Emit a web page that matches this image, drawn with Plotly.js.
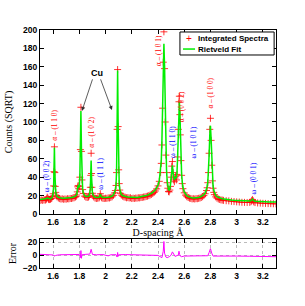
<!DOCTYPE html>
<html>
<head>
<meta charset="utf-8">
<script src="https://cdn.plot.ly/plotly-3.0.1.min.js"></script>
<style>html,body{margin:0;padding:0;background:#fff;}#chart{width:305px;height:306px;}</style>
</head>
<body>
<div id="chart"></div>
<script>
// D-spacing grid (Å) for the integrated spectrum and the Rietveld fit
const dSpacing = [
  1.50, 1.51, 1.52, 1.53, 1.54, 1.545, 1.55, 1.555, 1.56, 1.565, 1.57, 1.575, 1.58, 1.585, 1.59, 1.595,
  1.60, 1.604, 1.607, 1.61, 1.613, 1.616, 1.62, 1.625, 1.63, 1.64,
  1.65, 1.66, 1.67, 1.68, 1.69, 1.70, 1.71, 1.72, 1.73, 1.74, 1.75, 1.76, 1.77, 1.775, 1.78, 1.784, 1.788, 1.791, 1.795, 1.80,
  1.804, 1.808, 1.812, 1.816, 1.82, 1.825, 1.83, 1.84, 1.85, 1.86, 1.87,
  1.875, 1.88, 1.884, 1.887, 1.89, 1.893, 1.896, 1.90, 1.905, 1.91, 1.92, 1.93, 1.94, 1.95, 1.955, 1.96, 1.965, 1.97, 1.98, 1.99, 2.00,
  2.01, 2.02, 2.03, 2.04, 2.05, 2.06, 2.07, 2.075, 2.08, 2.084, 2.088, 2.092, 2.096, 2.10, 2.104, 2.108, 2.113, 2.12, 2.13, 2.14, 2.15, 2.16, 2.17, 2.18, 2.19,
  2.20, 2.21, 2.22, 2.23, 2.24, 2.25, 2.26, 2.27, 2.28, 2.29, 2.30, 2.31, 2.32, 2.33, 2.34, 2.35, 2.36, 2.37, 2.38, 2.39, 2.40,
  2.41, 2.42, 2.425, 2.43, 2.435, 2.44, 2.445, 2.45, 2.455, 2.46, 2.465, 2.47, 2.475, 2.48, 2.485,
  2.49, 2.495, 2.50, 2.505, 2.51, 2.515, 2.52, 2.525, 2.53, 2.535, 2.54, 2.545, 2.55, 2.555, 2.56, 2.563, 2.567, 2.57, 2.575, 2.58, 2.585, 2.59, 2.60,
  2.61, 2.62, 2.63, 2.64, 2.65, 2.66, 2.67, 2.68, 2.69, 2.70, 2.71, 2.72, 2.73, 2.74, 2.75, 2.76, 2.77, 2.775, 2.78, 2.785, 2.79, 2.795,
  2.80, 2.805, 2.81, 2.815, 2.82, 2.825, 2.83, 2.84, 2.85, 2.86, 2.87, 2.88, 2.89, 2.90, 2.92, 2.94, 2.96, 2.98, 3.00, 3.02, 3.04, 3.06, 3.08, 3.10, 3.11, 3.115, 3.12, 3.125, 3.13, 3.14, 3.16, 3.18, 3.20, 3.22, 3.24, 3.26, 3.28, 3.30
];

// Integrated spectra, Counts (SQRT)
const integratedSpectra = [
  14.6, 15.2, 14.8, 15.3, 15.0, 15.6, 16.4, 18.3, 17.2, 16.0, 15.6, 15.9, 16.1, 16.7, 17.2, 18.9,
  22.0, 30.5, 46, 73, 45, 30, 23.5, 20.2, 18.6, 17.4,
  16.7, 16.2, 16.5, 16.0, 16.3, 16.1, 16.6, 16.4, 16.9, 16.8, 17.3, 17.6, 18.4, 19.0, 20.6, 24, 29.5, 31, 27.5, 30,
  40, 70, 116, 68, 37, 26.5, 22.3, 19.4, 18.3, 17.9, 18.4,
  19.6, 22, 29, 42, 66, 44, 29, 22.5, 19.8, 18.5, 17.3, 16.8, 17.1, 17.4, 18.6, 22, 19.2, 17.6, 17.0, 16.8, 17.1,
  17.0, 17.5, 17.4, 18.0, 18.7, 20.2, 23, 25.5, 31, 45, 92, 157, 95, 48, 33, 26, 22.5, 20.5, 19.4, 18.6, 18.2, 17.6, 17.8, 17.4, 17.6,
  16.8, 17.2, 16.9, 17.3, 17.2, 17.6, 17.5, 17.9, 18.0, 18.4, 18.6, 19.1, 19.4, 20.0, 20.6, 21.3, 22.2, 23.4, 25, 27.3, 30.5,
  35.5, 45, 55, 75, 115, 165, 198, 158, 100, 64, 45, 34, 28, 24.5, 24,
  26, 30, 40, 52, 57, 45, 37, 35, 39, 41, 37, 43, 62, 92, 122, 128, 108, 86, 58, 42, 33, 27.5, 23,
  20.5, 18.8, 17.9, 17.2, 16.9, 16.4, 16.6, 16.3, 16.7, 16.6, 17.0, 17.3, 17.9, 18.8, 20.0, 22.0, 25.5, 28.5, 34, 45, 66, 92,
  104, 80, 53, 36, 28, 23.5, 21, 18.6, 17.2, 16.3, 15.8, 15.3, 15.1, 14.8, 14.4, 14.2, 13.7, 13.5, 13.2, 13.0, 12.7, 12.6, 12.5, 12.6, 13.4, 14.6, 15.8, 14.6, 13.2, 12.4, 12.0, 11.8, 11.6, 11.5, 11.3, 11.2, 11.1, 11.0
];

// Rietveld fit, Counts (SQRT)
const rietveldFit = [
  15.8, 15.9, 15.9, 16.0, 16.1, 16.3, 16.8, 17.6, 17.2, 16.5, 16.3, 16.4, 16.6, 17.0, 17.6, 19.0,
  22.5, 31, 47, 72, 46, 31, 24, 20.8, 19.2, 18.0,
  17.5, 17.2, 17.1, 17.0, 17.0, 17.1, 17.2, 17.4, 17.6, 17.8, 18.1, 18.5, 19.2, 19.8, 21.2, 24.5, 30, 31.5, 28.5, 30.5,
  42, 75, 112, 72, 38, 27, 22.8, 20, 19, 18.7, 19.2,
  20.0, 22.5, 28.5, 40, 58, 41, 28.5, 22.8, 20.3, 19.2, 18.2, 17.8, 17.8, 18.2, 19.2, 21.5, 19.8, 18.5, 17.9, 17.8, 17.9,
  18.0, 18.2, 18.5, 18.9, 19.5, 20.8, 23.5, 26.2, 32, 47, 95, 156, 97, 50, 34, 27, 23.2, 21.2, 20, 19.3, 18.9, 18.6, 18.4, 18.3, 18.3,
  17.6, 17.7, 17.8, 17.9, 18.0, 18.2, 18.4, 18.6, 18.9, 19.2, 19.6, 20.0, 20.5, 21.0, 21.7, 22.5, 23.4, 24.6, 26.2, 28.5, 31.5,
  36.5, 47, 58, 80, 118, 160, 185, 160, 105, 68, 48, 36, 30, 26.5, 26,
  27.5, 31.5, 40, 50, 53, 45, 38.5, 37, 39, 40, 39, 45, 64, 94, 120, 122, 110, 88, 60, 44, 35, 29, 24,
  21.5, 19.8, 18.8, 18.2, 17.8, 17.5, 17.4, 17.4, 17.5, 17.7, 18.0, 18.4, 19.0, 19.8, 21.0, 23.0, 26.5, 29.5, 35, 46, 64, 86,
  96, 82, 56, 39, 30.5, 26, 23, 20.2, 18.8, 18, 17.4, 17, 16.6, 16.3, 15.8, 15.4, 15.1, 14.8, 14.6, 14.4, 14.2, 14.0, 13.9, 14.0, 14.5, 15.4, 16.2, 15.4, 14.4, 13.8, 13.5, 13.4, 13.3, 13.2, 13.1, 13.0, 13.0, 12.9
];

// Error (difference) panel
const errorD = [
  1.50, 1.55, 1.56, 1.60, 1.61, 1.62, 1.65, 1.70, 1.78, 1.80, 1.808, 1.812, 1.816, 1.82, 1.85, 1.88, 1.89, 1.90, 1.93, 1.98,
  2.02, 2.04, 2.08, 2.088, 2.092, 2.096, 2.10, 2.15, 2.30, 2.40, 2.43, 2.44, 2.445, 2.45, 2.46, 2.47, 2.49, 2.50, 2.51, 2.52,
  2.53, 2.555, 2.56, 2.565, 2.57, 2.58, 2.60, 2.70, 2.78, 2.79, 2.80, 2.81, 2.82, 2.85, 2.90, 3.00, 3.10, 3.20, 3.30
];
const errorValues = [
  1.2, 1.0, 0.5, 0.2, -1.5, -0.5, 0.5, 0.8, 0.6, 1.0, -4, 7, -5, 0.5, 1.2, 1.5, 9, 1.0, 0.5, 0.8,
  -1.2, 0.5, 0.6, -3, 4, -2, 0.5, 0.8, 0.3, -0.5, -4, 6, 21, 3, -3, -4, -2, 0, 5, 0,
  -2, 0, 6, 1, -1.5, -2.5, -1.5, -1.2, -1, 4, 10, 3, -1.5, -1.5, -1.2, -1.5, -1.8, -2.2, -2.5
];

// Peak labels
const peakLabels = ["ω – (0 0 2)", "α – (1 1 0)", "α – (1 0 2)", "ω – (1 1 1)", "α – (1 0 1)", "ω – (1 1 0)", "α – (0 0 2)", "ω – (1 0 1)", "α – (1 0 0)", "ω – (0 0 1)"];
const peakLabelD = [1.546, 1.614, 1.886, 1.963, 2.40, 2.512, 2.575, 2.669, 2.793, 3.127];
const peakLabelY = [41, 97, 89, 43.5, 177, 78, 117, 78, 131.5, 39];
const peakPhase = ["ω", "α", "α", "ω", "α", "ω", "α", "ω", "α", "ω"];

// Legend entries
const legendNames = ["Integrated Spectra", "Rietveld Fit"];

const xTicks = [1.6, 1.8, 2.0, 2.2, 2.4, 2.6, 2.8, 3.0, 3.2];
const xTickText = ["1.6", "1.8", "2", "2.2", "2.4", "2.6", "2.8", "3", "3.2"];

const sans = "Liberation Sans, Arial, sans-serif";
const serif = "Liberation Serif, DejaVu Serif, serif";
const tickFont = {family: sans, size: 8.5, color: "#000", weight: "bold"};
const RED = "#ff0000", GREEN = "#00ee00", MAGENTA = "#ff00ff", BLUE = "#0000ff";

const traces = [
  {
    x: dSpacing, y: integratedSpectra, type: "scatter", mode: "markers",
    name: legendNames[0], xaxis: "x", yaxis: "y", showlegend: false,
    marker: {symbol: "cross-thin", size: 5, color: RED, line: {color: RED, width: 0.8}}
  },
  {
    x: dSpacing, y: rietveldFit, type: "scatter", mode: "lines",
    name: legendNames[1], xaxis: "x", yaxis: "y", showlegend: false,
    line: {color: GREEN, width: 1.5}
  },
  {
    x: errorD, y: errorValues, type: "scatter", mode: "lines",
    name: "Error", showlegend: false, xaxis: "x2", yaxis: "y2",
    line: {color: MAGENTA, width: 1}
  }
];

const annotations = peakLabels.map((t, i) => ({
  x: peakLabelD[i], y: peakLabelY[i], xref: "x", yref: "y", text: t, showarrow: false,
  textangle: -90, font: {family: serif, size: 7.3, color: peakPhase[i] === "α" ? RED : BLUE}
}));
annotations.push({x: 1.933, y: 153, xref: "x", yref: "y", text: "Cu", showarrow: false,
  font: {family: sans, size: 9, color: "#000", weight: "bold"}});
annotations.push({x: 1.820, y: 112, xref: "x", yref: "y", ax: 1.904, ay: 148, axref: "x", ayref: "y",
  text: "", showarrow: true, arrowhead: 2, arrowsize: 1, arrowwidth: 0.8, arrowcolor: "#333"});
annotations.push({x: 2.049, y: 113, xref: "x", yref: "y", ax: 1.958, ay: 148, axref: "x", ayref: "y",
  text: "", showarrow: true, arrowhead: 2, arrowsize: 1, arrowwidth: 0.8, arrowcolor: "#333"});

// Compact legend box (MATLAB style)
const legendFont = {family: sans, size: 8, color: "#000", weight: "bold"};
annotations.push({x: 0.631, y: 0.963, xref: "paper", yref: "paper", text: "+", showarrow: false,
  font: {family: sans, size: 10, color: RED}, xanchor: "center", yanchor: "middle"});
annotations.push({x: 0.663, y: 0.966, xref: "paper", yref: "paper", text: legendNames[0], showarrow: false,
  font: legendFont, xanchor: "left", yanchor: "middle"});
annotations.push({x: 0.663, y: 0.920, xref: "paper", yref: "paper", text: legendNames[1], showarrow: false,
  font: legendFont, xanchor: "left", yanchor: "middle"});
const shapes = [
  {type: "rect", xref: "paper", yref: "paper", x0: 0.593, x1: 0.992, y0: 0.895, y1: 0.9916,
    fillcolor: "#fff", line: {color: "#000", width: 1}, layer: "above"},
  {type: "line", xref: "paper", yref: "paper", x0: 0.606, x1: 0.657, y0: 0.920, y1: 0.920,
    line: {color: GREEN, width: 1.5}, layer: "above"}
];

const axisCommon = {
  showline: true, linecolor: "#000", linewidth: 1, mirror: "ticks",
  ticks: "inside", ticklen: 4, tickcolor: "#000", tickfont: tickFont, zeroline: false
};

const layout = {
  width: 305, height: 306,
  margin: {l: 40, r: 29, t: 30, b: 38},
  paper_bgcolor: "#fff", plot_bgcolor: "#fff",
  showlegend: false,
  xaxis: Object.assign({}, axisCommon, {domain: [0, 1], anchor: "y", range: [1.5, 3.3], tickvals: xTicks, ticktext: xTickText,
    showgrid: false, title: {text: "D-spacing Å", font: {family: serif, size: 10, color: "#000"}, standoff: 2}}),
  yaxis: Object.assign({}, axisCommon, {domain: [0.227, 1], anchor: "x", range: [0, 200], dtick: 20, showgrid: false,
    title: {text: "Counts (SQRT)", font: {family: serif, size: 10, color: "#000"}, standoff: 8}}),
  xaxis2: Object.assign({}, axisCommon, {domain: [0, 1], anchor: "y2", range: [1.5, 3.3], tickvals: xTicks, ticktext: xTickText,
    showgrid: true, gridcolor: "#bbb", griddash: "dot", gridwidth: 1}),
  yaxis2: Object.assign({}, axisCommon, {domain: [0, 0.122], anchor: "x2", range: [-20, 25], tickvals: [-20, 0, 20],
    showgrid: true, gridcolor: "#bbb", griddash: "dot", gridwidth: 1,
    title: {text: "Error", font: {family: serif, size: 10, color: "#000"}, standoff: 4}}),
  shapes: shapes,
  annotations: annotations
};

Plotly.newPlot("chart", traces, layout, {displayModeBar: false, staticPlot: true});
</script>
</body>
</html>
